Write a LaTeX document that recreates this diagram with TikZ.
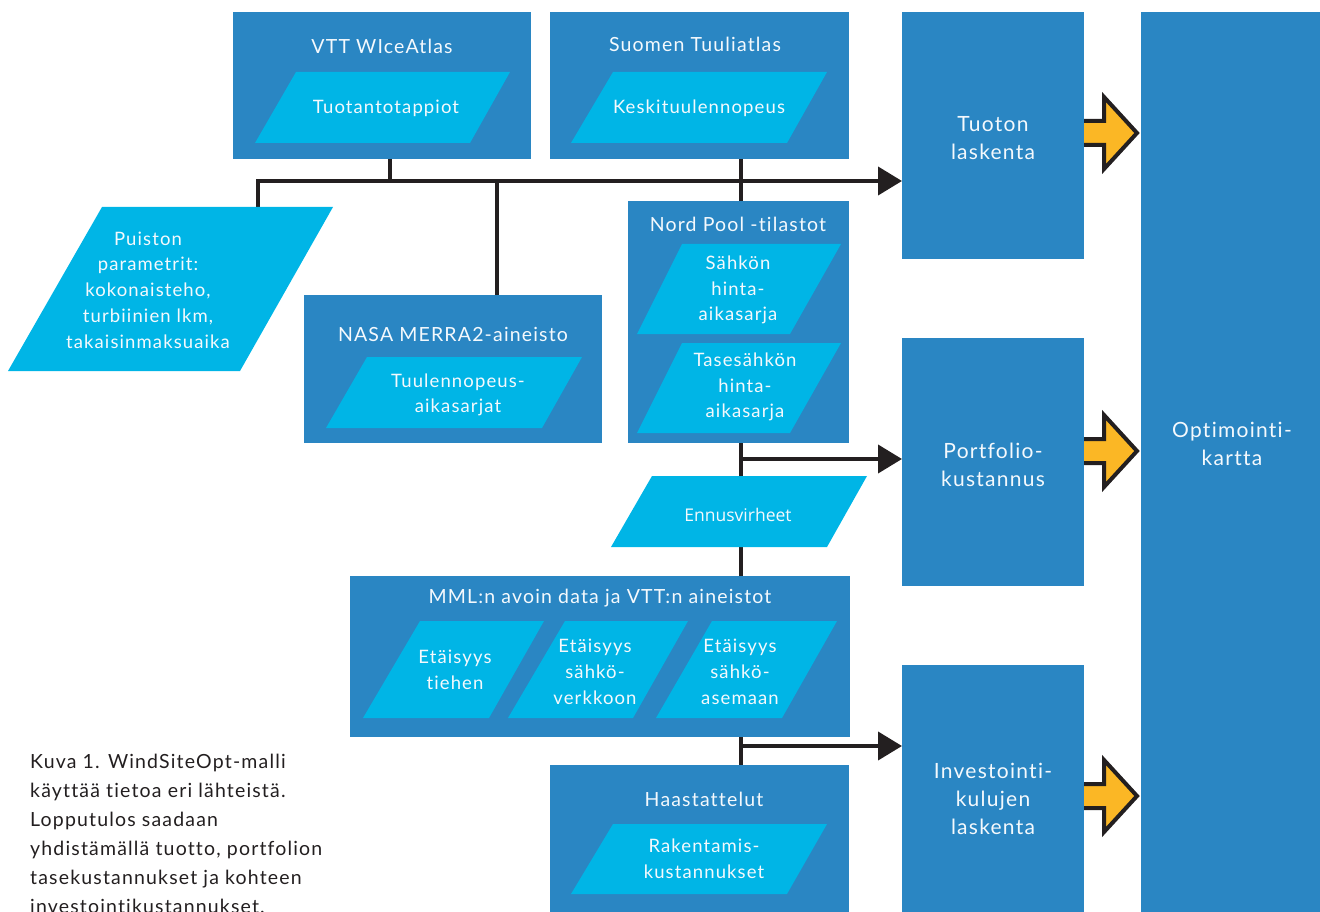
\documentclass[tikz,border=0pt]{standalone}
\usepackage{fontspec}
\setmainfont{Lato}[LetterSpace=6,Ligatures=NoCommon]
\newfontfamily\ennfont{Open Sans}
\usetikzlibrary{arrows.meta}
\definecolor{boxblue}{HTML}{2A86C3}
\definecolor{paracyan}{HTML}{00B5E6}
\definecolor{yarrowc}{HTML}{FBB725}
\definecolor{ink}{HTML}{231F20}
\definecolor{txtw}{HTML}{F4F9FD}
\newcommand\yblock[1]{%
  \filldraw[fill=yarrowc,draw=ink,line width=4pt,line join=miter]
    (1084,#1-12) -- (1104,#1-12) -- (1104,#1-36) -- (1137,#1) -- (1104,#1+36) -- (1104,#1+12) -- (1084,#1+12);}
\begin{document}
\begin{tikzpicture}[x=1pt,y=-1pt,
  box/.style={fill=boxblue,inner sep=0pt,outer sep=0pt},
  para/.style={fill=paracyan},
  ttl/.style={text=txtw,inner sep=0pt,align=center,font=\fontsize{19.5}{25}\selectfont},
  big/.style={text=txtw,inner sep=0pt,align=center,font=\fontsize{21}{28}\selectfont},
  ptxt/.style={text=txtw,inner sep=0pt,align=center,font=\fontsize{18.5}{25.7}\selectfont},
  conn/.style={draw=ink,line width=4pt},
  arr/.style={conn,-{Triangle[length=24pt,width=28pt]}}]
\useasboundingbox (0,0) rectangle (1320,912);
\clip (0,0) rectangle (1320,912);

% boxes
\node[box,minimum width=298pt,minimum height=147pt] (vtt) at (382,85.5) {};
\node[box,minimum width=299pt,minimum height=147pt] (suomi) at (699.5,85.5) {};
\node[box,minimum width=182pt,minimum height=247pt] (tuoton) at (993,135.5) {};
\node[box,minimum width=179pt,minimum height=900pt] (opt) at (1230.5,462) {};
\node[box,minimum width=182pt,minimum height=248pt] (portf) at (993,462) {};
\node[box,minimum width=182pt,minimum height=247pt] (invest) at (993,788.5) {};
\node[box,minimum width=298pt,minimum height=148pt] (nasa) at (453,369) {};
\node[box,minimum width=221pt,minimum height=242pt] (nord) at (738.5,322) {};
\node[box,minimum width=500pt,minimum height=161pt] (mml) at (600,656.5) {};
\node[box,minimum width=299pt,minimum height=147pt] (haast) at (699.5,838.5) {};

% connector points
\coordinate (busL) at (258,181);
\coordinate (vttdrop) at (390,181);
\coordinate (nasadrop) at (497,181);
\coordinate (spine) at (741,181);
\coordinate (puistontop) at (258,208);

% connectors
\draw[arr] (puistontop) -- (busL) -- (tuoton.west |- busL);
\draw[conn] (vtt.south -| vttdrop) -- (vttdrop);
\draw[conn] (nasadrop) -- (nasa.north -| nasadrop);
\draw[conn] (suomi.south -| spine) -- (nord.north -| spine);
\draw[conn] (nord.south -| spine) -- (mml.north -| spine);
\draw[arr] (nord.south -| spine) ++(0,16) coordinate (pj) -- (portf.west |- pj);
\draw[conn] (mml.south -| spine) -- (haast.north -| spine);
\draw[arr] (mml.south -| spine) ++(0,9) coordinate (ij) -- (invest.west |- ij);

% parallelograms
\fill[para] (255,143) -- (470,143) -- (510,72) -- (296,72) -- cycle;
\fill[para] (571,143) -- (787,143) -- (827,72) -- (613,72) -- cycle;
\fill[para] (8,371) -- (240,371) -- (333,207) -- (102,207) -- cycle;
\fill[para] (326,428) -- (542,428) -- (582,357) -- (367,357) -- cycle;
\fill[para] (637,334) -- (790,334) -- (841,244) -- (682,244) -- cycle;
\fill[para] (637,433) -- (790,433) -- (841,343) -- (682,343) -- cycle;
\fill[para] (611,547) -- (827,547) -- (867,476) -- (652,476) -- cycle;
\fill[para] (363,718) -- (489,718) -- (544,621) -- (420,621) -- cycle;
\fill[para] (508,718) -- (633,718) -- (688,621) -- (565,621) -- cycle;
\fill[para] (656,718) -- (782,718) -- (837,621) -- (712,621) -- cycle;
\fill[para] (571,894) -- (787,894) -- (827,824) -- (613,824) -- cycle;

% yellow block arrows
\yblock{133}
\yblock{451}
\yblock{796}

% titles
\node[ttl] (tvtt) at (382,46) {VTT WIceAtlas};
\node[ttl] (tsuomi) at (695,44) {Suomen Tuuliatlas};
\node[ttl] (tnasa) at (453,334) {NASA MERRA2-aineisto};
\node[ttl] (tnord) at (738,224) {Nord Pool -tilastot};
\node[ttl] (tmml) at (600,598) {MML:n avoin data ja VTT:n aineistot};
\node[ttl] (thaast) at (704,799) {Haastattelut};

\node[big] (ttuoton) at (993,138) {Tuoton\\laskenta};
\node[big] (tportf) at (993,465) {Portfolio-\\kustannus};
\node[big] (tinvest) at (993,799) {Investointi-\\kulujen\\laskenta};
\node[big] (topt) at (1232,444) {Optimointi-\\kartta};

% parallelogram texts
\node[ptxt] (p1) at (386,108) {Tuotantotappiot};
\node[ptxt] (p2) at (699,108) {Keskituulennopeus};
\node[ptxt] (p3) at (148,290) {Puiston\\parametrit:\\kokonaisteho,\\turbiinien lkm,\\takaisinmaksuaika};
\node[ptxt] (p4) at (458,395) {Tuulennopeus-\\aikasarjat};
\node[ptxt] (p5) at (738,290) {Sähkön\\hinta-\\aikasarja};
\node[ptxt] (p6) at (745,387) {Tasesähkön\\hinta-\\aikasarja};
\node[ptxt,font=\ennfont\fontsize{17.5}{24}\selectfont] (p7) at (738,515) {Ennusvirheet};
\node[ptxt] (p8) at (455,670) {Etäisyys\\tiehen};
\node[ptxt] (p9) at (595,672) {Etäisyys\\sähkö-\\verkkoon};
\node[ptxt] (p10) at (740,672) {Etäisyys\\sähkö-\\asemaan};
\node[ptxt] (p11) at (704,859) {Rakentamis-\\kustannukset};

% caption
\node[anchor=north west,inner sep=0pt,align=left,text=ink,font=\fontsize{19.5}{29}\selectfont] (cap) at (30,754)
  {Kuva 1. WindSiteOpt-malli\\käyttää tietoa eri lähteistä.\\Lopputulos saadaan\\yhdistämällä tuotto, portfolion\\tasekustannukset ja kohteen\\investointikustannukset.};
\end{tikzpicture}
\end{document}
